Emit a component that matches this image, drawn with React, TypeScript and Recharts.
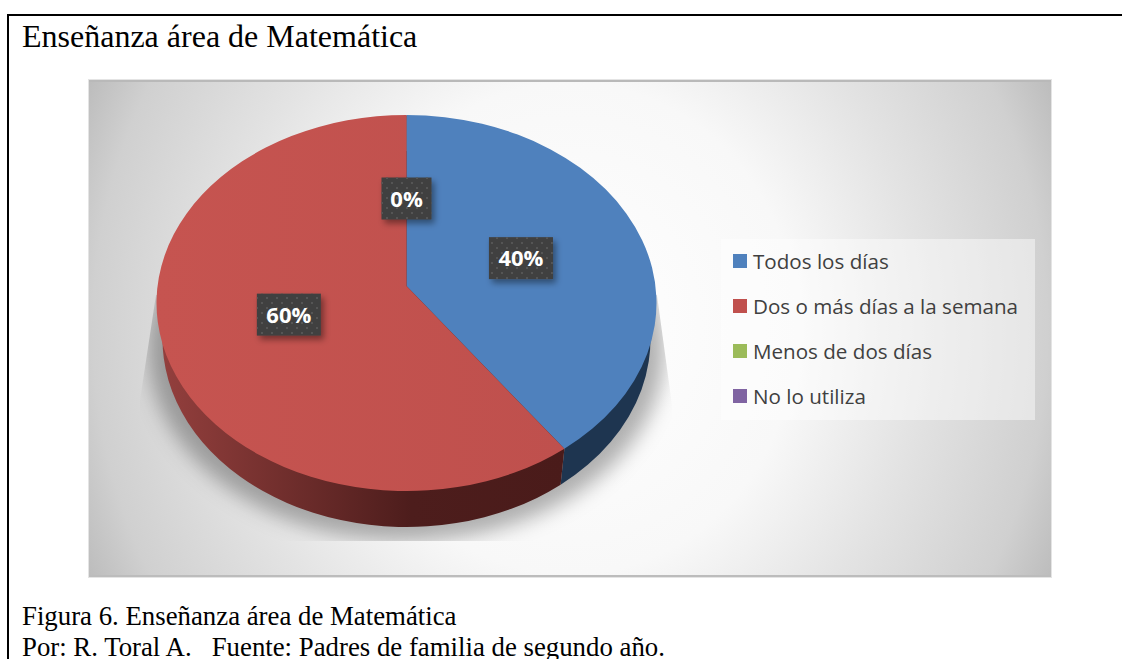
import React from 'react';
import { PieChart, Pie, Legend } from 'recharts';

const categories = ['Todos los días', 'Dos o más días a la semana', 'Menos de dos días', 'No lo utiliza'];
const shares = [40, 60, 0, 0];
const sliceColors = ['#4f81bd', '#c0504d', '#9bbb59', '#8064a2'];
const topColors = ['#4f81bd', 'url(#redTop)', '#9bbb59', '#8064a2'];
const wallColors = ['#1e3550', 'url(#redWall)', '#4d5e2c', '#403151'];

const data = categories.map((name, i) => ({ name, value: shares[i], fill: sliceColors[i] }));

// the pie is tilted: the slice vertex sits above the middle of the top ellipse
const TILT = 0.752;
const SKEW = -0.0904;
const DEPTH = 36;
const WALL_RX = 244;
const LABEL_POS = 0.49;
const WIDE = Math.sqrt(1 - SKEW * SKEW);

function project(cx: number, cy: number, rx: number, ry: number, deg: number, f = 1) {
  const t = ((90 - deg) * Math.PI) / 180;
  const u = Math.sin(t) * f;
  const v = -Math.cos(t) * f;
  const w = 1 + SKEW * v;
  return { x: cx + (u * rx * WIDE) / w, y: cy + ((v + SKEW) * ry) / w };
}

const TopSlice = (props: any) => {
  const { cx, cy, outerRadius: r, startAngle, endAngle, index } = props;
  if (startAngle === endAngle) return null;
  const ry = r * TILT;
  const a = project(cx, cy, r, ry, startAngle);
  const b = project(cx, cy, r, ry, endAngle);
  const o = project(cx, cy, r, ry, 0, 0);
  const large = Math.abs(startAngle - endAngle) > 180 ? 1 : 0;
  return <path d={`M${o.x},${o.y}L${a.x},${a.y}A${r},${ry} 0 ${large} 1 ${b.x},${b.y}Z`} fill={topColors[index]} />;
};

const WallSlice = (props: any) => {
  const { cx, cy, outerRadius: r, startAngle, endAngle, index } = props;
  if (startAngle === endAngle) return null;
  const ry = r * TILT;
  const a = project(cx, cy, r, ry, startAngle);
  const b = project(cx, cy, r, ry, endAngle);
  const a2 = project(cx, cy + DEPTH, WALL_RX, ry, startAngle);
  const b2 = project(cx, cy + DEPTH, WALL_RX, ry, endAngle);
  const large = Math.abs(startAngle - endAngle) > 180 ? 1 : 0;
  return (
    <path
      d={`M${a.x},${a.y}L${a2.x},${a2.y}A${WALL_RX},${ry} 0 ${large} 1 ${b2.x},${b2.y}L${b.x},${b.y}Z`}
      fill={wallColors[index]}
    />
  );
};

const FloorShadow = (props: any) => {
  const { cx, cy, outerRadius: r, index } = props;
  if (index !== 0) return null;
  return (
    <g clipPath="url(#shadowClip)">
      <ellipse cx={cx} cy={cy + 46} rx={r + 8} ry={r * TILT + 4} fill="#000" fillOpacity={0.3} filter="url(#softBlur)" />
    </g>
  );
};

const SliceLabel = (props: any) => {
  const { cx, cy, outerRadius: r, midAngle, value, index } = props;
  // the two empty slices share one spot, the picture shows a single box
  if (index === 3) return null;
  const p = project(cx, cy, r, r * TILT, midAngle, LABEL_POS);
  const text = `${value}%`;
  const w = text.length > 2 ? 64 : 50;
  const h = 42;
  return (
    <g>
      <rect x={p.x - w / 2} y={p.y - h / 2} width={w} height={h} fill="#3f3f3f" filter="url(#boxShadow)" />
      <rect x={p.x - w / 2} y={p.y - h / 2} width={w} height={h} fill="url(#dots)" />
      <text
        x={p.x}
        y={p.y + 8}
        textAnchor="middle"
        fill="#ffffff"
        fontFamily="'Open Sans', sans-serif"
        fontWeight={700}
        fontSize={22}
      >
        {text}
      </text>
    </g>
  );
};

const LegendBox = ({ payload }: any) => (
  <div style={{ width: 314, height: 181, background: 'rgba(255,255,255,0.45)', position: 'relative' }}>
    {(payload || []).filter((e: any) => e.type !== 'none').slice(0, 4).map((e: any, i: number) => (
      <div key={e.value} style={{ position: 'absolute', left: 12, top: 7 + i * 45, height: 30, display: 'flex', alignItems: 'center' }}>
        <span style={{ width: 14, height: 14, background: e.color, marginRight: 6 }} />
        <span style={{ fontFamily: "'Open Sans', sans-serif", fontSize: 20.6, color: '#404040', whiteSpace: 'nowrap' }}>{e.value}</span>
      </div>
    ))}
  </div>
);

export default function App() {
  const serif = "'Liberation Serif', serif";
  return (
    <div style={{ position: 'absolute', left: 0, top: 0, width: 1122, height: 659, overflow: 'hidden', background: '#fff' }}>
      <div style={{ position: 'absolute', left: 7, top: 14, width: 1115, height: 645, borderTop: '2px solid #000', borderLeft: '2px solid #000', boxSizing: 'border-box' }} />
      <div style={{ position: 'absolute', left: 22, top: 18, fontFamily: serif, fontSize: 32, color: '#000', whiteSpace: 'nowrap' }}>
        Enseñanza área de Matemática
      </div>
      <div
        style={{
          position: 'absolute',
          left: 89,
          top: 80,
          width: 962,
          height: 497,
          background: 'radial-gradient(ellipse 62% 130% at 50% 50%, #ffffff 0%, #f8f8f8 38%, #e3e3e3 59%, #d0d0d0 80%, #bdbdbd 89%)',
          boxShadow: 'inset 0 2px 0 #b9b9b9, inset 0 -2px 0 #bcbcbc, 0 0 0 1px #e4e4e4',
        }}
      >
        <PieChart width={962} height={497} margin={{ top: 0, right: 0, bottom: 0, left: 0 }}>
          <defs>
            <linearGradient id="redWall" x1="0" y1="0" x2="1" y2="0">
              <stop offset="0" stopColor="#933f3d" />
              <stop offset="0.62" stopColor="#4d1d1c" />
              <stop offset="1" stopColor="#4a1b1a" />
            </linearGradient>
            <linearGradient id="redTop" x1="0" y1="0" x2="1" y2="0">
              <stop offset="0" stopColor="#c65450" />
              <stop offset="1" stopColor="#bf504d" />
            </linearGradient>
            <pattern id="dots" width="10" height="10" patternUnits="userSpaceOnUse">
              <rect x="2" y="2" width="2" height="2" fill="#555555" />
              <rect x="7" y="7" width="2" height="2" fill="#555555" />
            </pattern>
            <filter id="softBlur" x="-20%" y="-20%" width="140%" height="140%">
              <feGaussianBlur stdDeviation="10" />
            </filter>
            <filter id="boxShadow" x="-30%" y="-30%" width="170%" height="170%">
              <feDropShadow dx="3" dy="4" stdDeviation="3" floodColor="#000" floodOpacity="0.4" />
            </filter>
            <clipPath id="shadowClip">
              <polygon points="67,215 51,320 51,461 583,461 583,325 568,215" />
            </clipPath>
          </defs>
          <Pie data={data} dataKey="value" nameKey="name" cx={317.5} cy={223} outerRadius={250} startAngle={90} endAngle={-270} shape={FloorShadow} legendType="none" stroke="none" isAnimationActive={false} />
          <Pie data={data} dataKey="value" nameKey="name" cx={317.5} cy={223} outerRadius={250} startAngle={90} endAngle={-270} shape={WallSlice} legendType="none" stroke="none" isAnimationActive={false} />
          <Pie data={data} dataKey="value" nameKey="name" cx={317.5} cy={223} outerRadius={250} startAngle={90} endAngle={-270} shape={TopSlice} label={SliceLabel} labelLine={false} stroke="none" isAnimationActive={false} />
          <Legend content={LegendBox} itemSorter={null} layout="vertical" wrapperStyle={{ position: 'absolute', left: 632, top: 159, width: 314, height: 181 }} />
        </PieChart>
      </div>
      <div style={{ position: 'absolute', left: 22, top: 601, fontFamily: serif, fontSize: 26.8, color: '#000', whiteSpace: 'nowrap' }}>
        Figura 6. Enseñanza área de Matemática
      </div>
      <div style={{ position: 'absolute', left: 22, top: 635, height: 24, lineHeight: '24px', fontFamily: serif, fontSize: 26.8, color: '#000', whiteSpace: 'nowrap' }}>
        Por: R. Toral A.&nbsp;&nbsp; Fuente: Padres de familia de segundo año.
      </div>
    </div>
  );
}
